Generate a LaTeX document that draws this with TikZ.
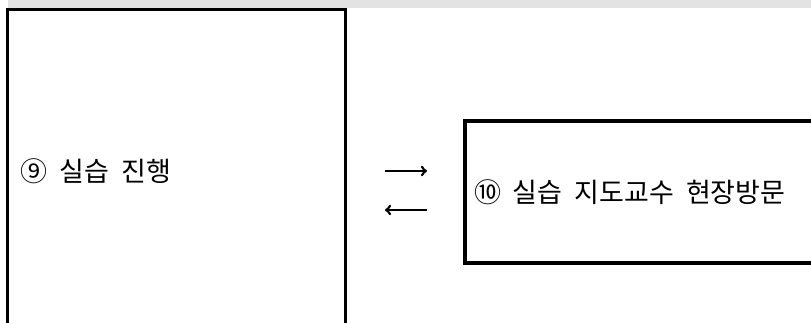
\documentclass[tikz,border=0pt]{standalone}
\usepackage{fontspec}
\newfontfamily\kr{Noto Sans CJK KR}
\newcommand\boxfont{\kr\fontsize{27}{32}\selectfont\spaceskip 12pt\relax}
\usetikzlibrary{arrows}
\definecolor{bandgrey}{RGB}{227,227,227}

\begin{document}
\begin{tikzpicture}[x=1pt,y=-1pt,
  box/.style={draw,line width=3.2pt,align=flush left,font=\boxfont},
  flow/.style={line width=2.6pt,-to}]
  \useasboundingbox (0,0) rectangle (811,322);
  \clip (0,0) rectangle (811,322);
  \fill[bandgrey] (8,0) rectangle (811,7.5);

  \node[box,inner xsep=12pt,minimum width=338pt,minimum height=323pt,text width=312pt] (S9) at (176.75,171) {⑨ 실습 진행};
  \node[box,inner xsep=8pt,minimum width=380pt,minimum height=142pt,text width=362pt] (S10) at (655,192) {⑩ 실습 지도교수 현장방문};

  \coordinate (go1) at (385,171);
  \coordinate (go2) at (427,171);
  \coordinate (back1) at (427,210);
  \coordinate (back2) at (385,210);

  \draw[flow] (go1) -- (go2);
  \draw[flow] (back1) -- (back2);
\end{tikzpicture}
\end{document}
